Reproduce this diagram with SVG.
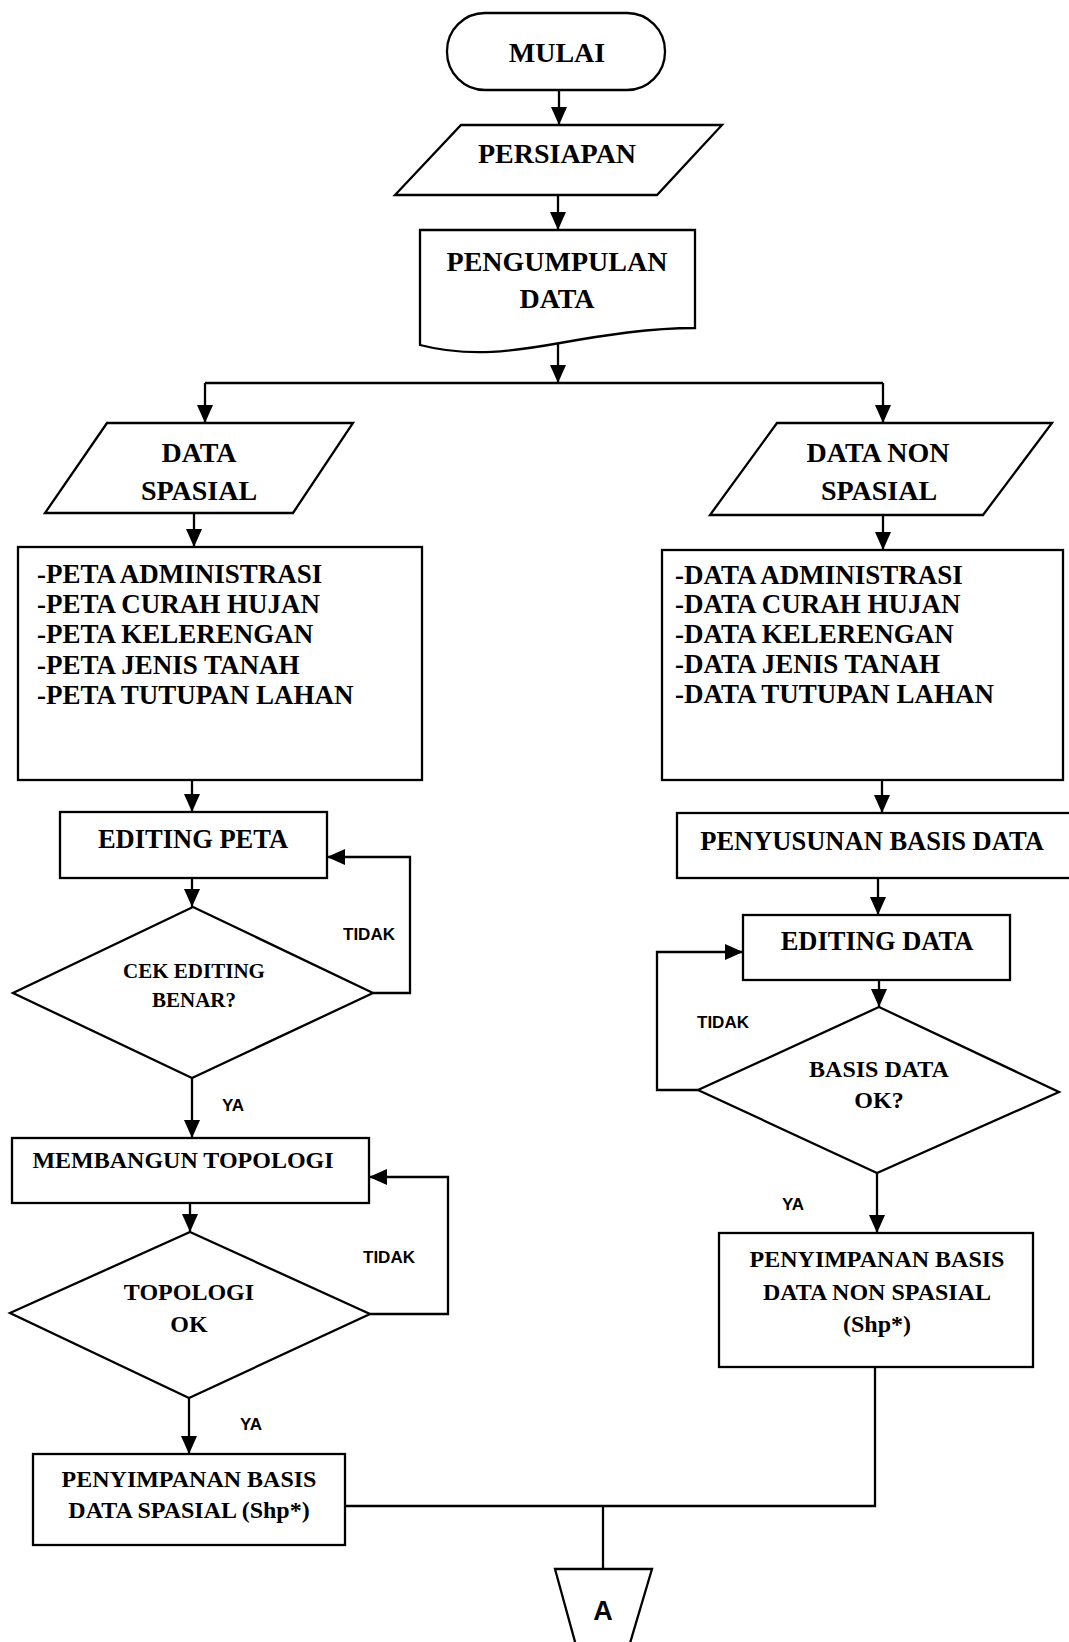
<svg xmlns="http://www.w3.org/2000/svg" width="1069" height="1642" viewBox="0 0 1069 1642">
  <style>
    .shape { fill: #fff; stroke: #000; stroke-width: 2.3; stroke-linejoin: miter; }
    .line { fill: none; stroke: #000; stroke-width: 2.3; }
    .arrow { marker-end: url(#head); }
    .t { font-family: "Liberation Serif", "Times New Roman", serif; font-weight: bold; fill: #000; }
    .c { text-anchor: middle; }
    .big { font-size: 28px; }
    .mid { font-size: 26.5px; }
    .sm { font-size: 24px; }
    .xs { font-size: 21px; }
    .list { font-size: 27px; }
    .lbl { font-family: "Liberation Sans", Arial, sans-serif; font-weight: bold; font-size: 17px; fill: #000; }
    .conn { font-family: "Liberation Sans", Arial, sans-serif; font-weight: bold; font-size: 27px; fill: #000; text-anchor: middle; }
  </style>
  <defs>
    <marker id="head" markerUnits="userSpaceOnUse" markerWidth="18" markerHeight="16" refX="18" refY="8" orient="auto">
      <path d="M0,0 L18,8 L0,16 Z" fill="#000"/>
    </marker>
  </defs>
  <rect width="1069" height="1642" fill="#fff"/>

  <!-- connectors -->
  <g id="connectors">
    <line class="line arrow" x1="559" y1="90" x2="559" y2="125"/>
    <line class="line arrow" x1="558" y1="195" x2="558" y2="230"/>
    <line class="line arrow" x1="558" y1="343" x2="558" y2="383"/>
    <line class="line" x1="205" y1="383" x2="883" y2="383"/>
    <line class="line arrow" x1="205" y1="383" x2="205" y2="423"/>
    <line class="line arrow" x1="883" y1="383" x2="883" y2="423"/>
    <line class="line arrow" x1="194" y1="513" x2="194" y2="547"/>
    <line class="line arrow" x1="883" y1="515" x2="883" y2="550"/>
    <!-- spatial branch -->
    <line class="line arrow" x1="192" y1="780" x2="192" y2="812"/>
    <line class="line arrow" x1="192" y1="878" x2="192" y2="907"/>
    <polyline class="line arrow" points="373,993 410,993 410,857 327,857"/>
    <line class="line arrow" x1="192" y1="1078" x2="192" y2="1138"/>
    <line class="line arrow" x1="190" y1="1203" x2="190" y2="1232"/>
    <polyline class="line arrow" points="370,1314 448,1314 448,1177 369,1177"/>
    <line class="line arrow" x1="189" y1="1398" x2="189" y2="1454"/>
    <!-- non-spatial branch -->
    <line class="line arrow" x1="882" y1="780" x2="882" y2="813"/>
    <line class="line arrow" x1="878" y1="878" x2="878" y2="915"/>
    <line class="line arrow" x1="879" y1="980" x2="879" y2="1007"/>
    <polyline class="line arrow" points="698,1090 657,1090 657,952 743,952"/>
    <line class="line arrow" x1="877" y1="1173" x2="877" y2="1233"/>
    <!-- merge to connector A -->
    <polyline class="line" points="345,1506 875,1506 875,1367"/>
    <line class="line" x1="603" y1="1506" x2="603" y2="1569"/>
    <text class="lbl" x="343" y="940">TIDAK</text>
    <text class="lbl" x="222" y="1111">YA</text>
    <text class="lbl" x="363" y="1263">TIDAK</text>
    <text class="lbl" x="240" y="1430">YA</text>
    <text class="lbl" x="697" y="1028">TIDAK</text>
    <text class="lbl" x="782" y="1210">YA</text>
  </g>

  <g id="mulai">
    <rect class="shape" x="447" y="13" width="218" height="77" rx="38" ry="38"/>
    <text class="t c big" x="557" y="62">MULAI</text>
  </g>

  <g id="persiapan">
    <polygon class="shape" points="461,125 722,125 657,195 395,195"/>
    <text class="t c big" x="557" y="163">PERSIAPAN</text>
  </g>

  <g id="pengumpulan-data">
    <path class="shape" d="M420,230 H695 V328 C650,328 605,335 560,343 C515,351 470,358 420,345 Z"/>
    <text class="t c big" x="557" y="271">PENGUMPULAN</text>
    <text class="t c big" x="557" y="308">DATA</text>
  </g>

  <g id="data-spasial">
    <polygon class="shape" points="107,423 353,423 293,513 45,513"/>
    <text class="t c big" x="199" y="462">DATA</text>
    <text class="t c big" x="199" y="500">SPASIAL</text>
  </g>

  <g id="data-non-spasial">
    <polygon class="shape" points="777,423 1052,423 983,515 710,515"/>
    <text class="t c big" x="878" y="462">DATA NON</text>
    <text class="t c big" x="879" y="500">SPASIAL</text>
  </g>

  <g id="daftar-peta">
    <rect class="shape" x="18" y="547" width="404" height="233"/>
    <text class="t list" x="37" y="583">-PETA ADMINISTRASI</text>
    <text class="t list" x="37" y="613">-PETA CURAH HUJAN</text>
    <text class="t list" x="37" y="643">-PETA KELERENGAN</text>
    <text class="t list" x="37" y="674">-PETA JENIS TANAH</text>
    <text class="t list" x="37" y="704">-PETA TUTUPAN LAHAN</text>
  </g>

  <g id="daftar-data">
    <rect class="shape" x="662" y="550" width="401" height="230"/>
    <text class="t list" x="675" y="584">-DATA ADMINISTRASI</text>
    <text class="t list" x="675" y="613">-DATA CURAH HUJAN</text>
    <text class="t list" x="675" y="643">-DATA KELERENGAN</text>
    <text class="t list" x="675" y="673">-DATA JENIS TANAH</text>
    <text class="t list" x="675" y="703">-DATA TUTUPAN LAHAN</text>
  </g>

  <g id="editing-peta">
    <rect class="shape" x="60" y="812" width="267" height="66"/>
    <text class="t c mid" x="193" y="848">EDITING PETA</text>
  </g>

  <g id="cek-editing">
    <polygon class="shape" points="193,907 373,993 192,1078 13,993"/>
    <text class="t c xs" x="194" y="978">CEK EDITING</text>
    <text class="t c xs" x="194" y="1007">BENAR?</text>
  </g>

  <g id="membangun-topologi">
    <rect class="shape" x="12" y="1138" width="357" height="65"/>
    <text class="t c sm" x="183" y="1168">MEMBANGUN TOPOLOGI</text>
  </g>

  <g id="topologi-ok">
    <polygon class="shape" points="190,1232 370,1314 189,1398 10,1313"/>
    <text class="t c sm" x="189" y="1300">TOPOLOGI</text>
    <text class="t c sm" x="189" y="1332">OK</text>
  </g>

  <g id="simpan-spasial">
    <rect class="shape" x="33" y="1454" width="312" height="91"/>
    <text class="t c sm" x="189" y="1487">PENYIMPANAN BASIS</text>
    <text class="t c sm" x="189" y="1518">DATA SPASIAL (Shp*)</text>
  </g>

  <g id="penyusunan-basis-data">
    <rect class="shape" x="677" y="813" width="420" height="65"/>
    <text class="t c mid" x="872" y="850">PENYUSUNAN BASIS DATA</text>
  </g>

  <g id="editing-data">
    <rect class="shape" x="743" y="915" width="267" height="65"/>
    <text class="t c mid" x="877" y="950">EDITING DATA</text>
  </g>

  <g id="basis-data-ok">
    <polygon class="shape" points="879,1007 1059,1092 877,1173 698,1090"/>
    <text class="t c sm" x="879" y="1077">BASIS DATA</text>
    <text class="t c sm" x="879" y="1108">OK?</text>
  </g>

  <g id="simpan-non-spasial">
    <rect class="shape" x="719" y="1233" width="314" height="134"/>
    <text class="t c sm" x="877" y="1267">PENYIMPANAN BASIS</text>
    <text class="t c sm" x="877" y="1300">DATA NON SPASIAL</text>
    <text class="t c sm" x="877" y="1332">(Shp*)</text>
  </g>

  <g id="konektor-a">
    <polygon class="shape" points="555,1569 652,1569 625,1660 580,1660"/>
    <text class="conn" x="603" y="1620">A</text>
  </g>
</svg>
